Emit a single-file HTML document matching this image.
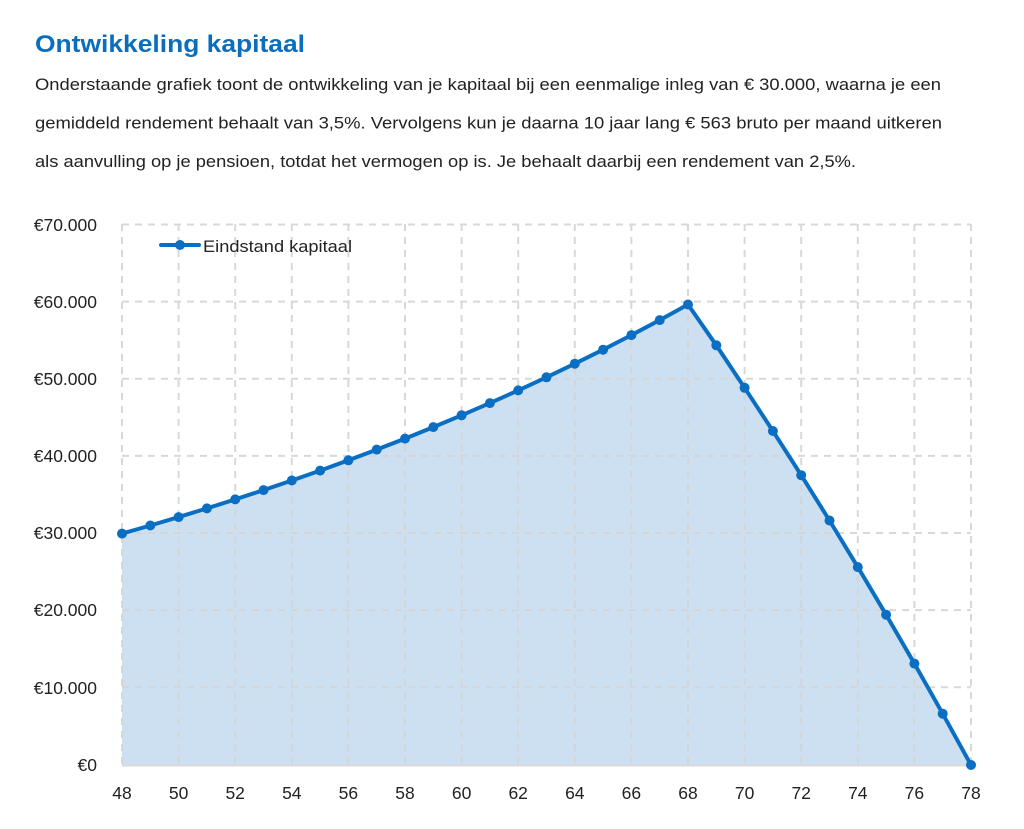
<!DOCTYPE html>
<html>
<head>
<meta charset="utf-8">
<style>
html,body{margin:0;padding:0;background:#fff;}
svg{display:block;}
text{font-family:"Liberation Sans",sans-serif;}
</style>
</head>
<body>
<svg width="1024" height="829" viewBox="0 0 1024 829" xmlns="http://www.w3.org/2000/svg">
<text x="35" y="52" font-size="24" font-weight="bold" fill="#0a6ebd" textLength="270" lengthAdjust="spacingAndGlyphs">Ontwikkeling kapitaal</text>
<g font-size="16.5" fill="#222">
<text x="35" y="90" textLength="906" lengthAdjust="spacingAndGlyphs">Onderstaande grafiek toont de ontwikkeling van je kapitaal bij een eenmalige inleg van € 30.000, waarna je een</text>
<text x="35" y="128.5" textLength="907" lengthAdjust="spacingAndGlyphs">gemiddeld rendement behaalt van 3,5%. Vervolgens kun je daarna 10 jaar lang € 563 bruto per maand uitkeren</text>
<text x="35" y="167" textLength="821" lengthAdjust="spacingAndGlyphs">als aanvulling op je pensioen, totdat het vermogen op is. Je behaalt daarbij een rendement van 2,5%.</text>
</g>

<!-- area -->
<polygon fill="#cde0f2" points="122,765 122,533.6 150.3,525.5 178.6,517.1 206.9,508.4 235.2,499.4 263.5,490.1 291.8,480.5 320.1,470.6 348.4,460.3 376.7,449.6 405,438.6 433.3,427.1 461.6,415.3 489.9,403.1 518.2,390.4 546.5,377.3 574.8,363.7 603.1,349.7 631.4,335.1 659.7,320.1 688,304.5 716.3,345.3 744.6,387.8 772.9,431 801.2,475.2 829.5,520.5 857.8,567.1 886.1,614.7 914.4,663.6 942.7,713.7 971,765"/>

<!-- grid -->
<g stroke="#d4d4d4" stroke-width="2" stroke-dasharray="7,6" fill="none" opacity="0.9">
<line x1="122" y1="224.5" x2="971" y2="224.5"/>
<line x1="122" y1="301.6" x2="971" y2="301.6"/>
<line x1="122" y1="378.7" x2="971" y2="378.7"/>
<line x1="122" y1="455.9" x2="971" y2="455.9"/>
<line x1="122" y1="533" x2="971" y2="533"/>
<line x1="122" y1="610.1" x2="971" y2="610.1"/>
<line x1="122" y1="687.3" x2="971" y2="687.3"/>
<line x1="122" y1="224" x2="122" y2="765"/>
<line x1="178.6" y1="224" x2="178.6" y2="765"/>
<line x1="235.2" y1="224" x2="235.2" y2="765"/>
<line x1="291.8" y1="224" x2="291.8" y2="765"/>
<line x1="348.4" y1="224" x2="348.4" y2="765"/>
<line x1="405" y1="224" x2="405" y2="765"/>
<line x1="461.6" y1="224" x2="461.6" y2="765"/>
<line x1="518.2" y1="224" x2="518.2" y2="765"/>
<line x1="574.8" y1="224" x2="574.8" y2="765"/>
<line x1="631.4" y1="224" x2="631.4" y2="765"/>
<line x1="688" y1="224" x2="688" y2="765"/>
<line x1="744.6" y1="224" x2="744.6" y2="765"/>
<line x1="801.2" y1="224" x2="801.2" y2="765"/>
<line x1="857.8" y1="224" x2="857.8" y2="765"/>
<line x1="914.4" y1="224" x2="914.4" y2="765"/>
<line x1="971" y1="224" x2="971" y2="765"/>
</g>
<line x1="122" y1="765.5" x2="971" y2="765.5" stroke="#d9d9d9" stroke-width="2"/>

<!-- line -->
<polyline fill="none" stroke="#0a6fc2" stroke-width="4" stroke-linejoin="round" points="122,533.6 150.3,525.5 178.6,517.1 206.9,508.4 235.2,499.4 263.5,490.1 291.8,480.5 320.1,470.6 348.4,460.3 376.7,449.6 405,438.6 433.3,427.1 461.6,415.3 489.9,403.1 518.2,390.4 546.5,377.3 574.8,363.7 603.1,349.7 631.4,335.1 659.7,320.1 688,304.5 716.3,345.3 744.6,387.8 772.9,431 801.2,475.2 829.5,520.5 857.8,567.1 886.1,614.7 914.4,663.6 942.7,713.7 971,765"/>
<g fill="#0a6fc2">
<circle cx="122" cy="533.6" r="5"/><circle cx="150.3" cy="525.5" r="5"/><circle cx="178.6" cy="517.1" r="5"/><circle cx="206.9" cy="508.4" r="5"/><circle cx="235.2" cy="499.4" r="5"/><circle cx="263.5" cy="490.1" r="5"/><circle cx="291.8" cy="480.5" r="5"/><circle cx="320.1" cy="470.6" r="5"/><circle cx="348.4" cy="460.3" r="5"/><circle cx="376.7" cy="449.6" r="5"/><circle cx="405" cy="438.6" r="5"/><circle cx="433.3" cy="427.1" r="5"/><circle cx="461.6" cy="415.3" r="5"/><circle cx="489.9" cy="403.1" r="5"/><circle cx="518.2" cy="390.4" r="5"/><circle cx="546.5" cy="377.3" r="5"/><circle cx="574.8" cy="363.7" r="5"/><circle cx="603.1" cy="349.7" r="5"/><circle cx="631.4" cy="335.1" r="5"/><circle cx="659.7" cy="320.1" r="5"/><circle cx="688" cy="304.5" r="5"/><circle cx="716.3" cy="345.3" r="5"/><circle cx="744.6" cy="387.8" r="5"/><circle cx="772.9" cy="431" r="5"/><circle cx="801.2" cy="475.2" r="5"/><circle cx="829.5" cy="520.5" r="5"/><circle cx="857.8" cy="567.1" r="5"/><circle cx="886.1" cy="614.7" r="5"/><circle cx="914.4" cy="663.6" r="5"/><circle cx="942.7" cy="713.7" r="5"/><circle cx="971" cy="765" r="5"/>
</g>

<!-- legend -->
<line x1="161" y1="245" x2="199" y2="245" stroke="#0a6fc2" stroke-width="4" stroke-linecap="round"/>
<circle cx="180" cy="245" r="5" fill="#0a6fc2"/>
<text x="203" y="252" font-size="17" fill="#222" textLength="149" lengthAdjust="spacingAndGlyphs">Eindstand kapitaal</text>

<!-- y labels -->
<g font-size="17.5" fill="#222" text-anchor="end">
<text x="97" y="231">€70.000</text>
<text x="97" y="308">€60.000</text>
<text x="97" y="385">€50.000</text>
<text x="97" y="462">€40.000</text>
<text x="97" y="539">€30.000</text>
<text x="97" y="616">€20.000</text>
<text x="97" y="694">€10.000</text>
<text x="97" y="771">€0</text>
</g>

<!-- x labels -->
<g font-size="17.5" fill="#222" text-anchor="middle">
<text x="122" y="799">48</text>
<text x="178.6" y="799">50</text>
<text x="235.2" y="799">52</text>
<text x="291.8" y="799">54</text>
<text x="348.4" y="799">56</text>
<text x="405" y="799">58</text>
<text x="461.6" y="799">60</text>
<text x="518.2" y="799">62</text>
<text x="574.8" y="799">64</text>
<text x="631.4" y="799">66</text>
<text x="688" y="799">68</text>
<text x="744.6" y="799">70</text>
<text x="801.2" y="799">72</text>
<text x="857.8" y="799">74</text>
<text x="914.4" y="799">76</text>
<text x="971" y="799">78</text>
</g>
</svg>
</body>
</html>
